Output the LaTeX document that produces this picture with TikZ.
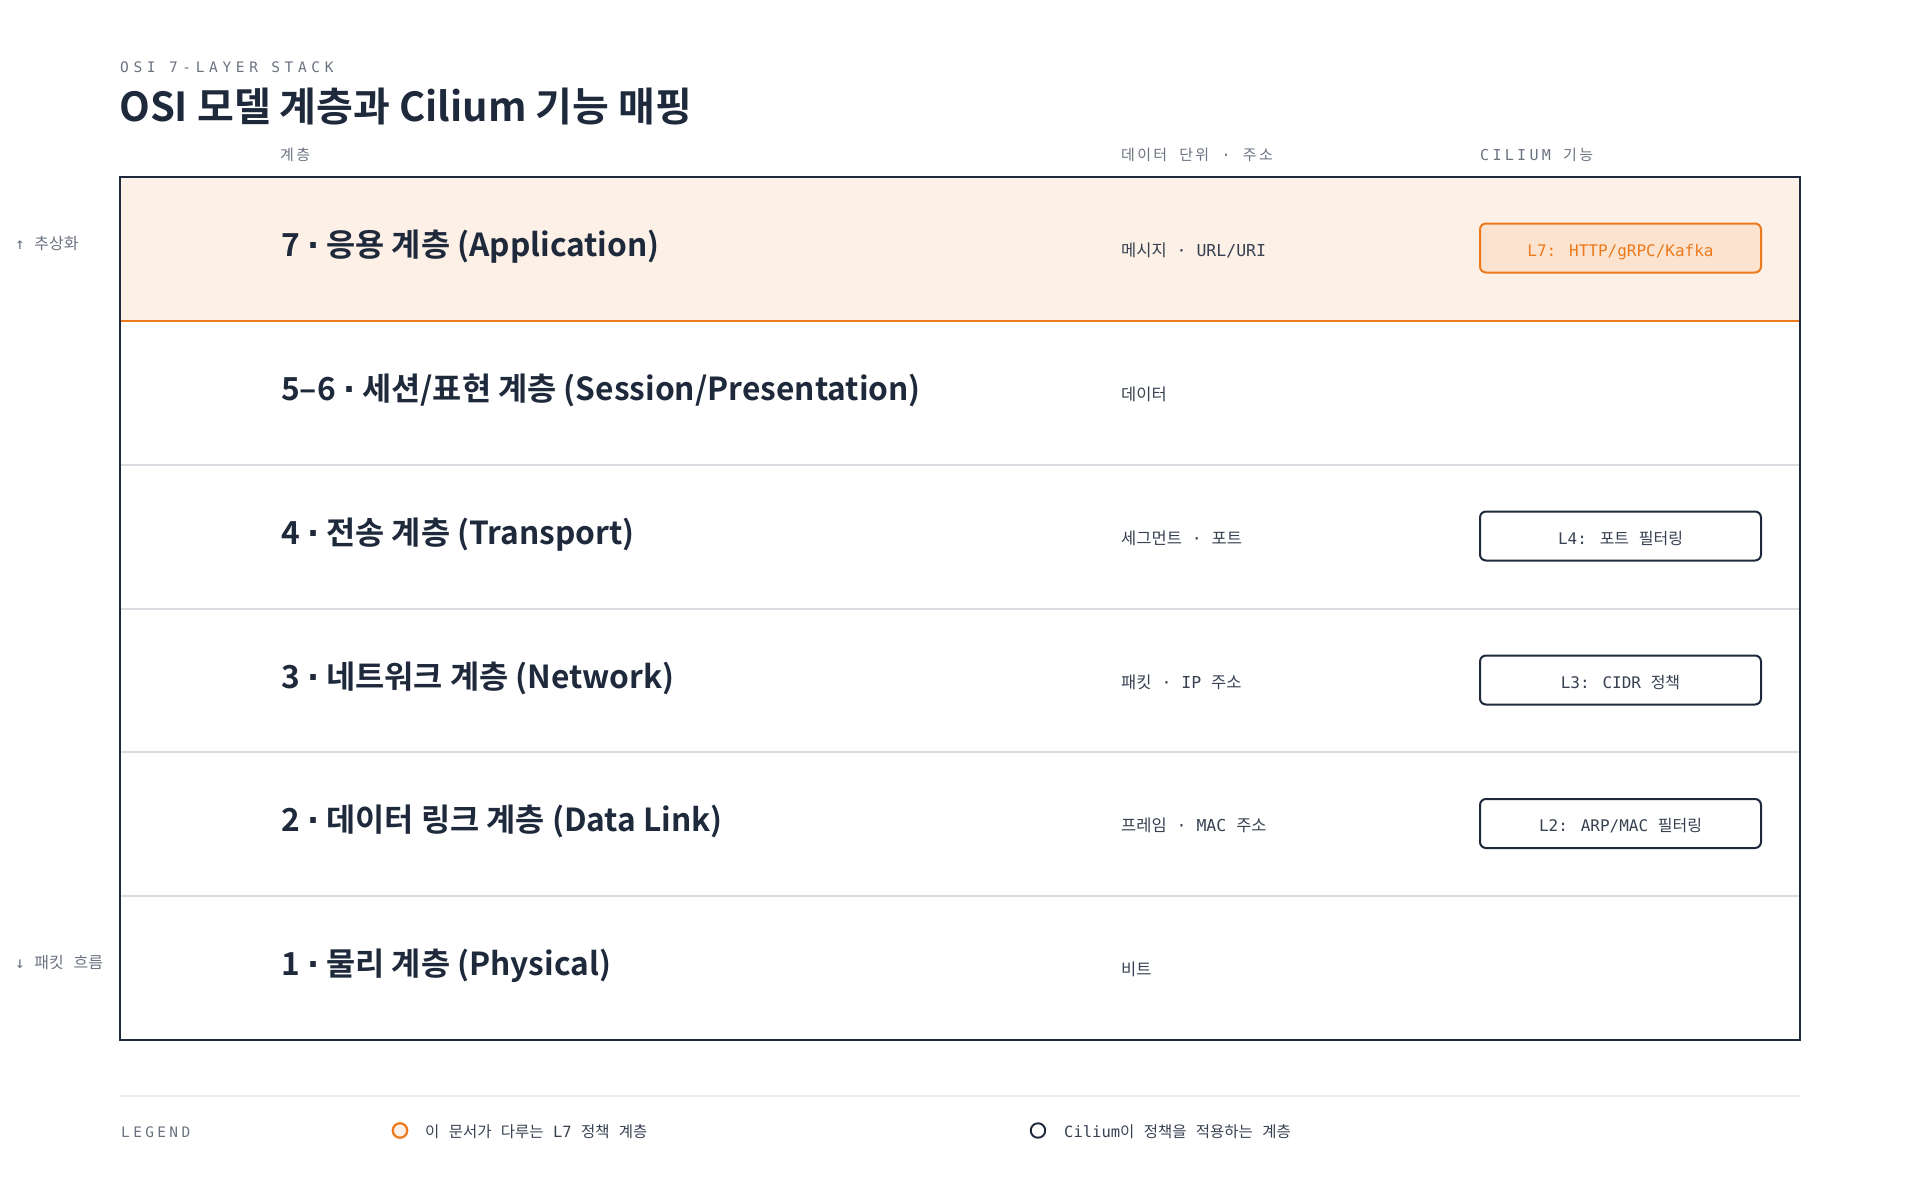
\documentclass[tikz,border=0pt]{standalone}
\usepackage{fontspec}
\setmainfont{Noto Sans CJK KR}[BoldFont={Noto Sans CJK KR Bold}]
\newfontfamily\kr{Noto Sans CJK KR}
\newfontfamily\krsp{Noto Sans CJK KR}[LetterSpace=15]
\newfontfamily\dvs{DejaVu Sans}
\newfontfamily\mn{DejaVu Sans Mono}
\newfontfamily\mnsp{DejaVu Sans Mono}[LetterSpace=32]
\newfontfamily\mnleg{DejaVu Sans Mono}[LetterSpace=23]
\newfontfamily\mnhead{DejaVu Sans Mono}[LetterSpace=22]
\newcommand\ko[1]{{\kr #1}}
\newcommand\kosp[1]{{\krsp #1}}
\newcommand\dt{{\dvs ·}}

\definecolor{navy}{HTML}{1E293B}
\definecolor{ink}{HTML}{374151}
\definecolor{mute}{HTML}{6B7280}
\definecolor{accent}{HTML}{EC7A1C}
\definecolor{accentbg}{HTML}{FDF0E6}
\definecolor{accentbox}{HTML}{FCE3D0}
\definecolor{rowrule}{HTML}{D9DCE1}
\definecolor{faint}{HTML}{ECECEC}

\begin{document}
\begin{tikzpicture}[x=1pt,y=-1pt,
  kicker/.style={anchor=base west, inner sep=0, text=mute, font=\fontsize{14.5}{17}\selectfont\mnsp},
  legendhead/.style={anchor=base west, inner sep=0, text=mute, font=\fontsize{14.5}{17}\selectfont\mnleg},
  heading/.style={anchor=base west, inner sep=0, text=navy, font=\fontsize{40}{46}\selectfont\bfseries},
  colhead/.style={anchor=base west, inner sep=0, text=mute, font=\fontsize{15}{18}\selectfont\mnhead},
  layername/.style={anchor=base west, inner sep=0, text=navy, font=\fontsize{31.7}{36}\selectfont\bfseries},
  unitlabel/.style={anchor=base west, inner sep=0, text=ink, font=\fontsize{16.5}{20}\selectfont\mn},
  cilbox/.style={draw=navy, fill=white, text=ink, line width=2pt, rounded corners=6pt,
    minimum width=281, minimum height=49, text height=16pt, text depth=0pt,
    font=\fontsize{16}{20}\selectfont\mn},
  cilhot/.style={cilbox, draw=accent, fill=accentbox, text=accent},
  sidenote/.style={anchor=base west, inner sep=0, text=mute, font=\fontsize{16}{19}\selectfont\mn},
  legendtext/.style={anchor=base west, inner sep=0, text=ink, font=\fontsize{15.5}{18}\selectfont\mn},
  keydot/.style={circle, inner sep=0, minimum size=14.5, line width=2.2pt}
]

\useasboundingbox (0,0) rectangle (1920,1200);

\coordinate (A) at (120,177);
\coordinate (B) at (1800,177);
\coordinate (C) at (120,321);
\coordinate (D) at (1800,321);
\coordinate (E) at (120,465);
\coordinate (F) at (1800,465);
\coordinate (G) at (120,609);
\coordinate (H) at (1800,609);
\coordinate (I) at (120,752);
\coordinate (J) at (1800,752);
\coordinate (K) at (120,896);
\coordinate (L) at (1800,896);
\coordinate (M) at (1800,1040);
\coordinate (N) at (120,1096);
\coordinate (O) at (1800,1096);

\fill [accentbg] (A) rectangle (D);

\draw [accent, line width=1.5pt] (C) -- (D);
\draw [rowrule, line width=1.5pt] (E) -- (F);
\draw [rowrule, line width=1.5pt] (G) -- (H);
\draw [rowrule, line width=1.5pt] (I) -- (J);
\draw [rowrule, line width=1.5pt] (K) -- (L);

\draw [navy, line width=2.2pt] (A) rectangle (M);

\node [kicker] (kick) at (120,72) {OSI 7-LAYER STACK};
\node [heading] (title) at (119,121) {OSI 모델 계층과 Cilium 기능 매핑};

\node [colhead] (hlayer) at (280,160) {\kosp{계층}};
\node [colhead] (hunit) at (1121,160) {\kosp{데이터} \kosp{단위} · \kosp{주소}};
\node [colhead] (hcil) at (1480,160) {CILIUM \kosp{기능}};

\node [sidenote] (up) at (15,249) {↑ \ko{추상화}};
\node [sidenote] (down) at (15,968) {↓ \ko{패킷} \ko{흐름}};

\node [layername] (l7) at (281,256) {7 \dt{} 응용 계층 (Application)};
\node [layername] (l56) at (281,400) {5–6 \dt{} 세션/표현 계층 (Session/Presentation)};
\node [layername] (l4) at (281,544) {4 \dt{} 전송 계층 (Transport)};
\node [layername] (l3) at (281,688) {3 \dt{} 네트워크 계층 (Network)};
\node [layername] (l2) at (281,831) {2 \dt{} 데이터 링크 계층 (Data Link)};
\node [layername] (l1) at (281,975) {1 \dt{} 물리 계층 (Physical)};

\node [unitlabel] (u7) at (1121,256) {\ko{메시지} · URL/URI};
\node [unitlabel] (u56) at (1121,400) {\ko{데이터}};
\node [unitlabel] (u4) at (1121,544) {\ko{세그먼트} · \ko{포트}};
\node [unitlabel] (u3) at (1121,688) {\ko{패킷} · IP \ko{주소}};
\node [unitlabel] (u2) at (1121,831) {\ko{프레임} · MAC \ko{주소}};
\node [unitlabel] (u1) at (1121,975) {\ko{비트}};

\node [cilhot] (c7) at (1620.5,248) {L7: HTTP/gRPC/Kafka};
\node [cilbox] (c4) at (1620.5,536) {L4: \ko{포트} \ko{필터링}};
\node [cilbox] (c3) at (1620.5,680) {L3: CIDR \ko{정책}};
\node [cilbox] (c2) at (1620.5,823.5) {L2: ARP/MAC \ko{필터링}};

\draw [faint, line width=2pt] (N) -- (O);

\node [legendhead] (legend) at (121,1137) {LEGEND};
\node [keydot, draw=accent, fill=accentbg] (k7) at (400,1130.5) {};
\node [legendtext] (t7) at (425,1137) {\ko{이} \ko{문서가} \ko{다루는} L7 \ko{정책} \ko{계층}};
\node [keydot, draw=navy, fill=white, line width=1.9pt] (kc) at (1038,1130.5) {};
\node [legendtext] (tc) at (1064,1137) {Cilium\ko{이} \ko{정책을} \ko{적용하는} \ko{계층}};

\end{tikzpicture}
\end{document}
